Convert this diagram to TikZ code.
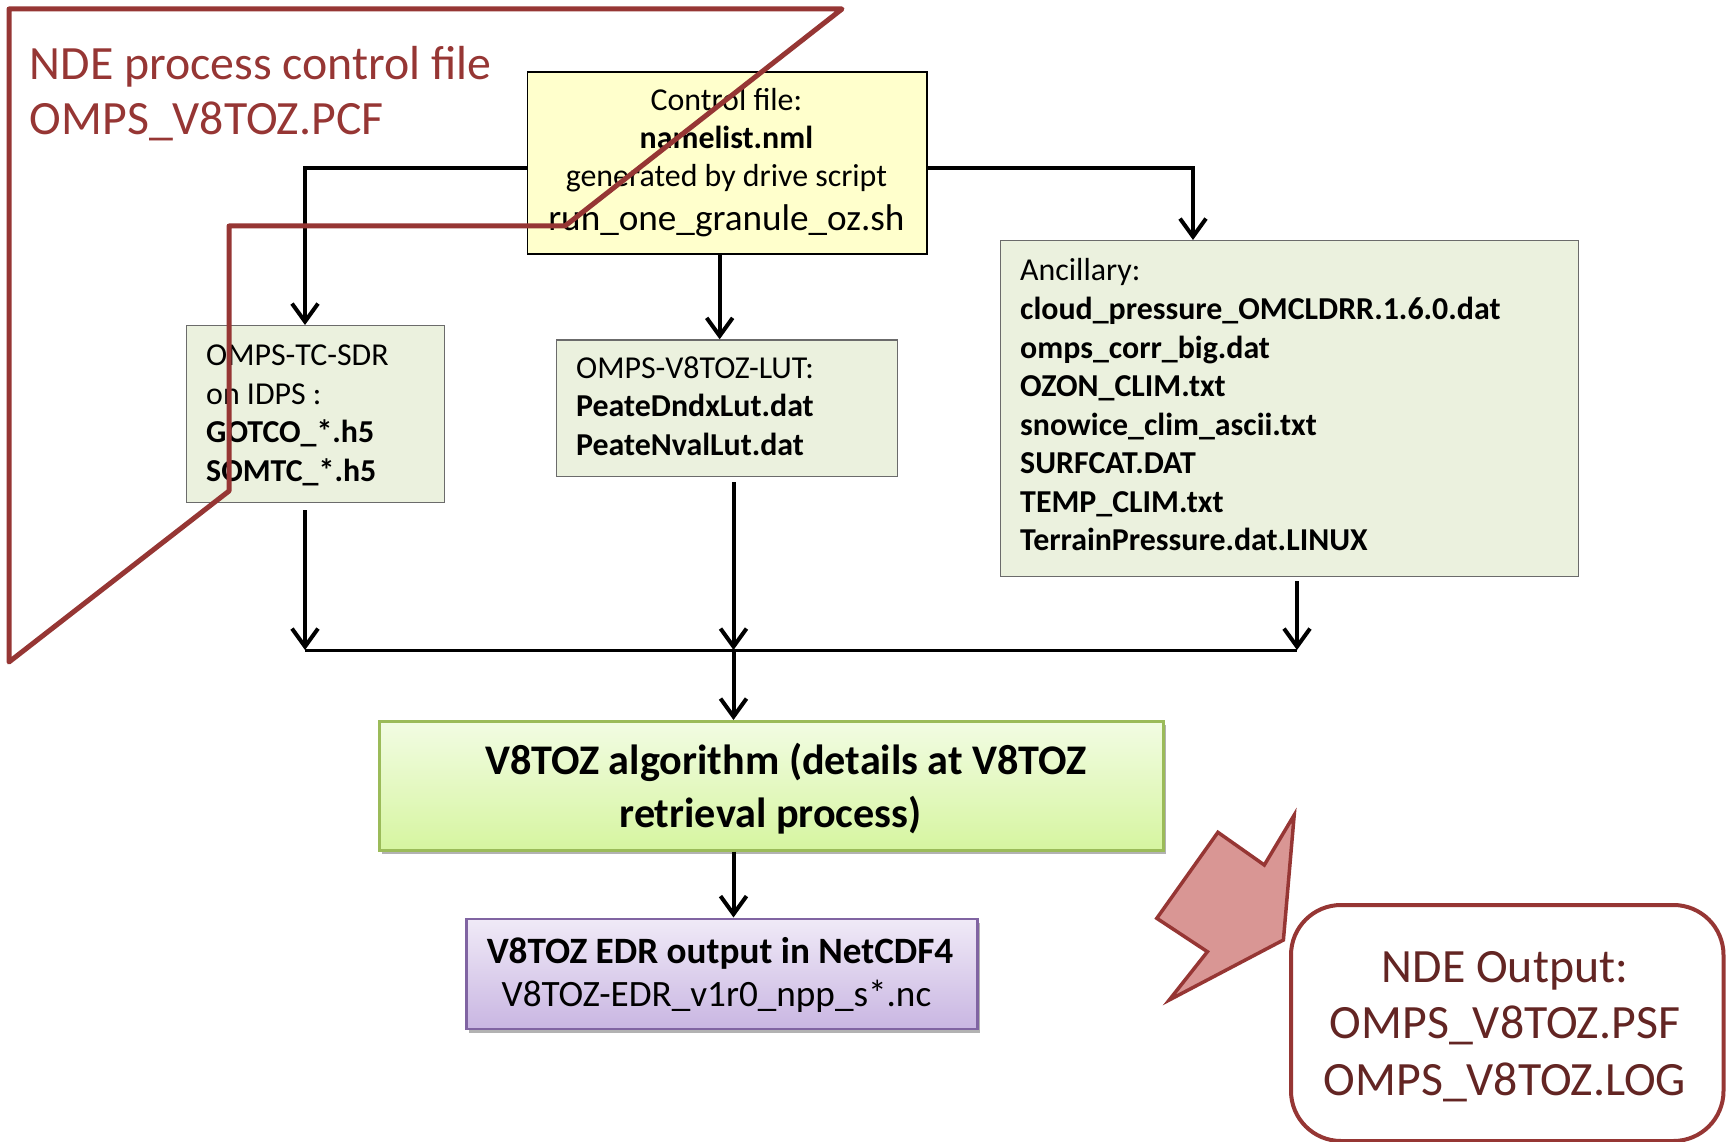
\documentclass[tikz,border=0pt]{standalone}
\usepackage{fontspec}
\setmainfont{Carlito}
\usetikzlibrary{arrows.meta,shadows}

\definecolor{pcfred}{HTML}{963634}
\definecolor{outtext}{HTML}{632523}
\definecolor{arrowfill}{HTML}{D99694}
\definecolor{filebox}{HTML}{EBF1DE}
\definecolor{fileedge}{HTML}{6B6B6B}
\definecolor{ctrlfill}{HTML}{FFFFCC}
\definecolor{algotop}{HTML}{F2FCE3}
\definecolor{algobot}{HTML}{D6F5A0}
\definecolor{algoedge}{HTML}{9BBB59}
\definecolor{outtop}{HTML}{F0EAF7}
\definecolor{outbot}{HTML}{C9B6E2}
\definecolor{outedge}{HTML}{8064A2}

\newcommand\fsbox{\fontsize{31.9}{38}\selectfont}
\newcommand\fsrun{\fontsize{37.2}{44}\selectfont}
\newcommand\fsalgo{\fontsize{42.2}{50}\selectfont}
\newcommand\fsbig{\fontsize{47.8}{57}\selectfont}

\tikzset{
  boxbase/.style={anchor=north west, inner sep=0pt},
  filepanel/.style={boxbase, draw=fileedge, line width=1.2pt, fill=filebox},
  ctrlpanel/.style={boxbase, draw=black, line width=1.3pt, fill=ctrlfill},
  algopanel/.style={boxbase, draw=algoedge, line width=2.5pt,
    top color=algotop, bottom color=algobot,
    drop shadow={shadow xshift=3pt, shadow yshift=-4pt, opacity=0.3, fill=black}},
  outpanel/.style={boxbase, draw=outedge, line width=2.5pt,
    top color=outtop, bottom color=outbot,
    drop shadow={shadow xshift=3pt, shadow yshift=-4pt, opacity=0.3, fill=black}},
  ndepanel/.style={boxbase, draw=pcfred, line width=4pt, fill=white, rounded corners=50pt},
  lefttext/.style={anchor=base west, inner sep=0pt},
  midtext/.style={anchor=base, inner sep=0pt},
  arr/.style={draw=black, line width=4pt,
    -{Straight Barb[length=18pt, width=26pt]}},
  bus/.style={draw=black, line width=3pt},
  pcfline/.style={draw=pcfred, line width=5pt, line join=round},
  blockarrow/.style={draw=pcfred, line width=3.5pt, fill=arrowfill, line join=miter},
}

\begin{document}
\begin{tikzpicture}[x=1pt, y=-1pt]
\useasboundingbox (0,0) rectangle (1727,1142);

% ---------- boxes ----------
\node[ctrlpanel, minimum width=399.8pt, minimum height=181.8pt] (ctrl) at (526.5,71.5) {};
\node[filepanel, minimum width=258pt, minimum height=177pt] (sdr) at (186,325) {};
\node[filepanel, minimum width=340.5pt, minimum height=136.7pt] (lut) at (556,339.3) {};
\node[filepanel, minimum width=578pt, minimum height=336pt] (anc) at (1000,240) {};
\node[algopanel, minimum width=784pt, minimum height=129pt] (algo) at (378,720) {};
\node[outpanel, minimum width=511pt, minimum height=110pt] (out) at (465,917.5) {};
\node[ndepanel, minimum width=432.5pt, minimum height=236pt] (nde) at (1289,903) {};

% ---------- texts ----------
\node[midtext, font=\fsbox] (ctrl1) at (726.4,111) {Control file:};
\node[midtext, font=\fsbox\bfseries] (ctrl2) at (726.4,148.7) {namelist.nml};
\node[midtext, font=\fsbox] (ctrl3) at (726.4,186.7) {generated by drive script};
\node[midtext, font=\fsrun] (ctrl4) at (726.4,230) {run\_one\_granule\_oz.sh};

\node[lefttext, font=\fsbox] (sdr1) at (206,365.7) {OMPS-TC-SDR};
\node[lefttext, font=\fsbox] (sdr2) at (206,404.2) {on IDPS :};
\node[lefttext, font=\fsbox\bfseries] (sdr3) at (206,442.8) {GOTCO\_*.h5};
\node[lefttext, font=\fsbox\bfseries] (sdr4) at (206,481.3) {SOMTC\_*.h5};

\node[lefttext, font=\fsbox] (lut1) at (576,378.3) {OMPS-V8TOZ-LUT:};
\node[lefttext, font=\fsbox\bfseries] (lut2) at (576,416.7) {PeateDndxLut.dat};
\node[lefttext, font=\fsbox\bfseries] (lut3) at (576,455) {PeateNvalLut.dat};

\node[lefttext, font=\fsbox] (anc0) at (1020,280.9) {Ancillary:};
\foreach \fname [count=\i] in {cloud\_pressure\_OMCLDRR.1.6.0.dat, omps\_corr\_big.dat,
    OZON\_CLIM.txt, snowice\_clim\_ascii.txt, SURFCAT.DAT, TEMP\_CLIM.txt,
    TerrainPressure.dat.LINUX}
  \node[lefttext, font=\fsbox\bfseries] (anc\i) at (1020,{280.9+38.55*\i}) {\fname};

\node[midtext, font=\fsalgo\bfseries] (algo1) at (786,774.3) {V8TOZ algorithm (details at V8TOZ};
\node[midtext, font=\fsalgo\bfseries] (algo2) at (770.6,827) {retrieval process)};

\node[midtext, font=\fsrun\bfseries] (out1) at (720,963.7) {V8TOZ EDR output in NetCDF4};
\node[midtext, font=\fsrun] (out2) at (716.5,1006.7) {V8TOZ-EDR\_v1r0\_npp\_s*.nc};

\node[midtext, font=\fsbig, text=outtext] (nde1) at (1505,982.4) {NDE Output:};
\node[midtext, font=\fsbig, text=outtext] (nde2) at (1505,1038.6) {OMPS\_V8TOZ.PSF};
\node[midtext, font=\fsbig, text=outtext] (nde3) at (1505,1095.9) {OMPS\_V8TOZ.LOG};

\node[lefttext, font=\fsbig, text=pcfred] (pcf1) at (29.7,79.3) {NDE process control file};
\node[lefttext, font=\fsbig, text=pcfred] (pcf2) at (29.7,134.4) {OMPS\_V8TOZ.PCF};

% ---------- connectors ----------
\coordinate (cL) at (305,168.5);
\coordinate (cR) at (1193,168.5);
\coordinate (busL) at (305,650);
\coordinate (busM) at (733.5,650);
\coordinate (busR) at (1297,650);

\draw[arr] (ctrl.west |- cL) -| (sdr.north -| cL);
\draw[arr] ([xshift=-7.4pt]ctrl.south) -- ([xshift=-7.4pt]ctrl.south |- lut.north);
\draw[arr] (ctrl.east |- cR) -| (anc.north -| cR);

\draw[arr, shorten <=7pt] (sdr.south -| busL) -- (busL);
\draw[arr, shorten <=5pt] (lut.south -| busM) -- (busM);
\draw[arr, shorten <=4pt] (anc.south -| busR) -- (busR);
\draw[bus] (busL) -- (busR);
\draw[arr] (busM) -- (algo.north -| busM);
\draw[arr] (algo.south -| busM) -- (out.north -| busM);

% ---------- output pointer ----------
\draw[blockarrow] (1294.2,815) -- (1283.4,940) -- (1169.2,1000) -- (1207.4,951.7)
  -- (1156.8,918.3) -- (1217.9,832.3) -- (1264.3,865) -- cycle;

% ---------- process control file outline ----------
\draw[pcfline] (9,9) -- (842,9) -- (565,226) -- (229,226) -- (229,491) -- (9,662) -- cycle;
\end{tikzpicture}
\end{document}
